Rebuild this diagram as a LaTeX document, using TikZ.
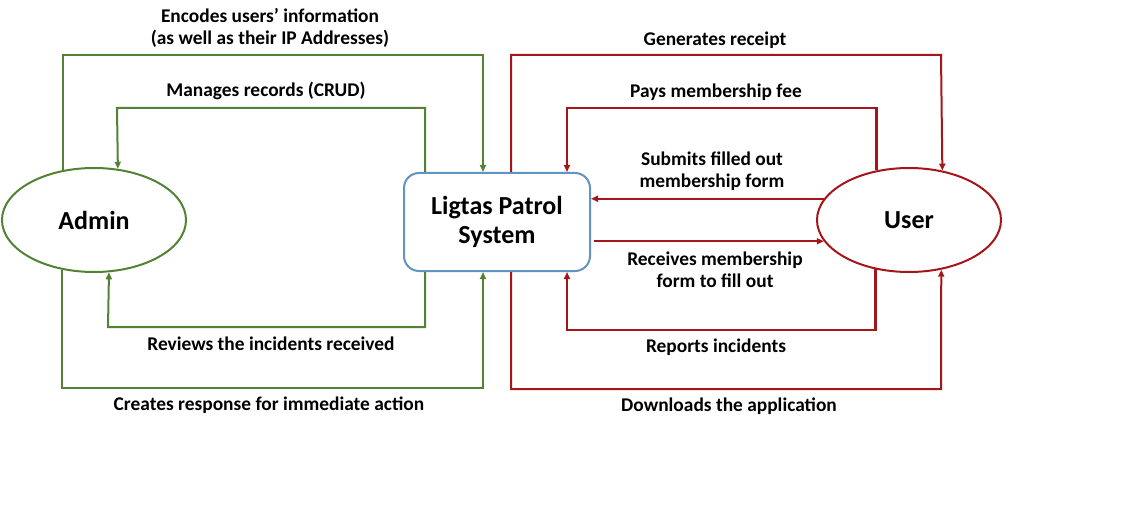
\documentclass[tikz,border=0pt]{standalone}
\usepackage{fontspec}
\setmainfont{Carlito}
\usetikzlibrary{shapes.geometric,arrows.meta}
\definecolor{gr}{RGB}{84,130,53}
\definecolor{rd}{RGB}{165,22,26}
\definecolor{bl}{RGB}{98,148,194}
\begin{document}
\begin{tikzpicture}[x=1pt,y=-1pt,
  gline/.style={draw=gr, line width=2pt, -{Triangle[length=7pt,width=6pt]}},
  rline/.style={draw=rd, line width=2pt, -{Triangle[length=7pt,width=6pt]}},
  rthick/.style={draw=rd, line width=2.8pt, -{Triangle[length=7pt,width=6pt]}},
  lbl/.style={font=\bfseries\fontsize{19.4}{22.5}\selectfont, align=center, inner sep=0pt},
  actor/.style={ellipse, line width=2pt, minimum width=184pt, minimum height=104pt, inner sep=0pt, font=\bfseries\fontsize{26}{29}\selectfont},
  sysbox/.style={rectangle, rounded corners=15pt, draw=bl, line width=2pt, minimum width=186pt, minimum height=98pt, align=center, font=\bfseries\fontsize{26}{29}\selectfont}
]
\useasboundingbox (0,0) rectangle (1146,505);
\node[actor, draw=gr] (admin) at (94,220) {Admin};
\node[actor, draw=rd] (user) at (909,220) {User};
\node[sysbox] (sys) at (497,222) {Ligtas Patrol\\System};

% green
\draw[gline] (admin.122.3) |- (483,55) -- (483,55 |- sys.north);
\draw[gline] (425,0 |- sys.north) |- (117,108) -- (admin.65.45);
\draw[gline] (425,0 |- sys.south) |- (108,327) -- (admin.-74.76);
\draw[gline] (admin.237.7) |- (483,388) -- (483,0 |- sys.south);

% red
\draw[rline] (511,0 |- sys.north) |- (941,55) -- (user.56.7);
\draw[rthick] (user.123.3) |- (567,108) -- (567,0 |- sys.north);
\draw[rline] (user.166.7) -- (user.166.7 -| sys.east);
\draw[rline] ([xshift=3pt]sys.east |- user.194) -- (user.194);
\draw[rthick] (user.236.7) |- (567,330) -- (567,0 |- sys.south);
\draw[rline] (511,0 |- sys.south) |- (941,389) -- (user.303.3);

% labels
\node[lbl] (l1) at (270,28) {Encodes users’ information\\(as well as their IP Addresses)};
\node[lbl] (l2) at (266,91) {Manages records (CRUD)};
\node[lbl] (l3) at (271,344) {Reviews the incidents received};
\node[lbl] (l4) at (269,405) {Creates response for immediate action};
\node[lbl] (l5) at (715,40) {Generates receipt};
\node[lbl] (l6) at (716,92) {Pays membership fee};
\node[lbl] (l7) at (712,171) {Submits filled out\\membership form};
\node[lbl] (l8) at (715,270) {Receives membership\\form to fill out};
\node[lbl] (l9) at (716,347) {Reports incidents};
\node[lbl] (l10) at (729,406) {Downloads the application};
\end{tikzpicture}
\end{document}
